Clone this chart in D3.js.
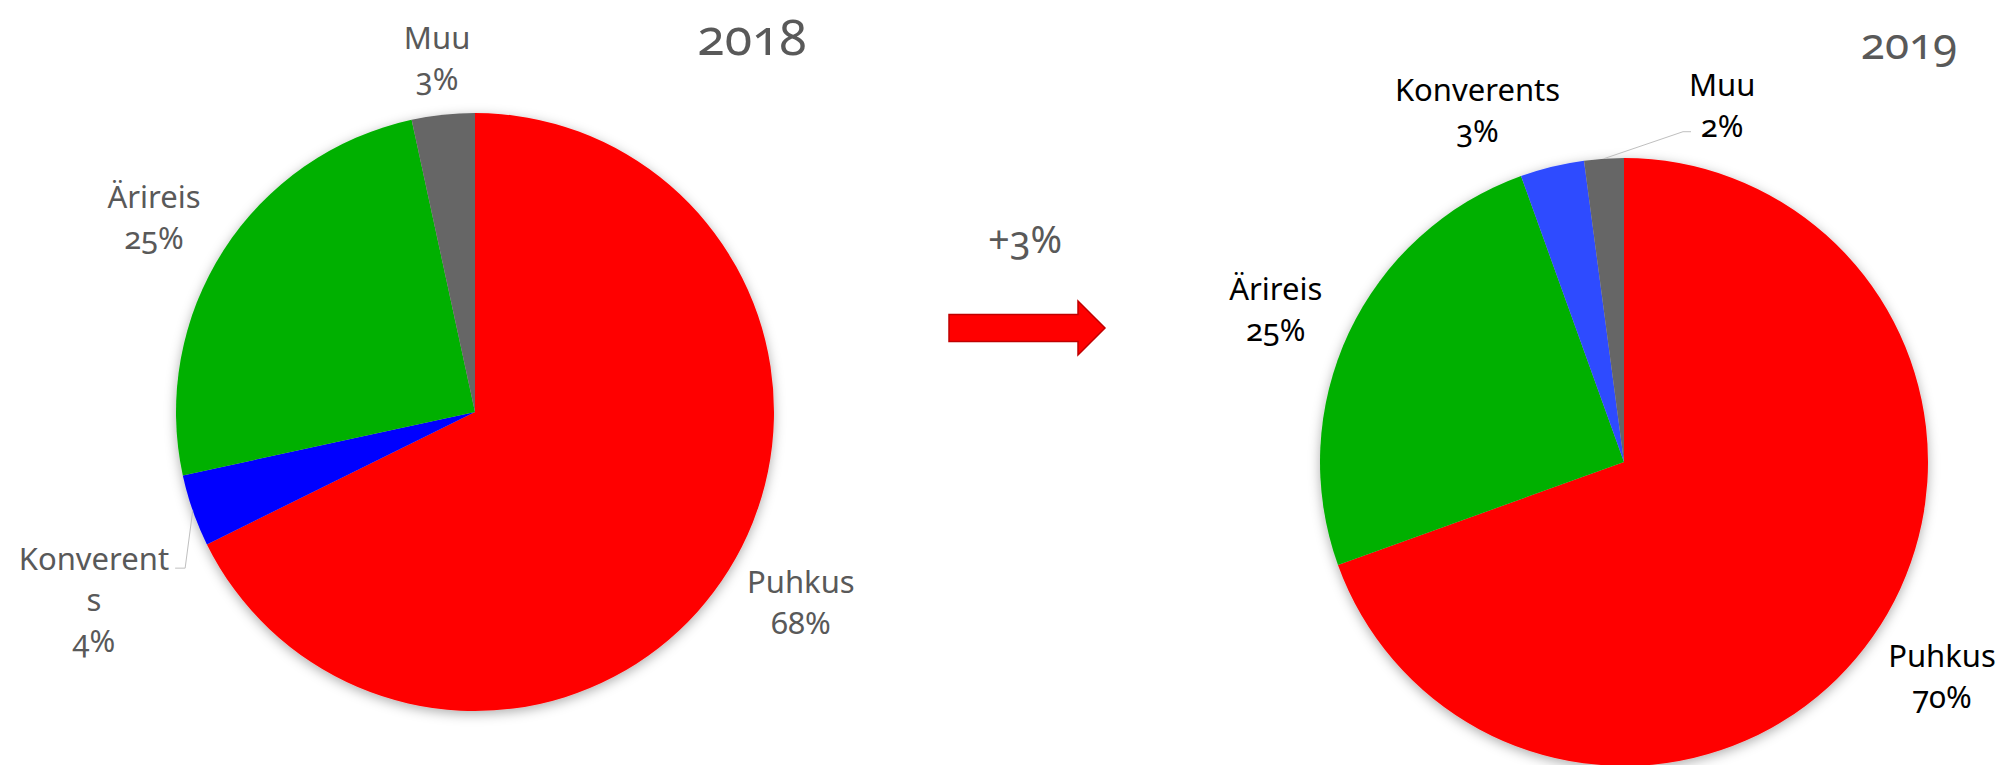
<!DOCTYPE html>
<html>
<head>
<meta charset="utf-8">
<script src="https://cdn.jsdelivr.net/npm/d3@7"></script>
<style>
body{margin:0;background:#fff;}
text{font-family:"Noto Sans",sans-serif;font-variant-numeric:oldstyle-nums;}
</style>
</head>
<body>
<div id="canvas"></div>
<script>
// data (share of trips, %)
var cats2018 = ['Puhkus','Konverents','Ärireis','Muu'];
var vals2018 = [67.7, 3.9, 25.0, 3.4];
var cats2019 = ['Puhkus','Ärireis','Konverents','Muu'];
var vals2019 = [69.5, 25.0, 3.4, 2.1];
var years = ['2018','2019'];
var change = '+3%';

var W = 2013, H = 765;
var fs = 31, lh = 41, cap = 22, gap = 25;

var svg = d3.select('#canvas').append('svg')
    .attr('width', W).attr('height', H);

var f = svg.append('defs').append('filter').attr('id','shadow')
    .attr('x','-20%').attr('y','-20%').attr('width','140%').attr('height','140%');
f.append('feDropShadow').attr('dx',0).attr('dy',3).attr('stdDeviation',6)
    .attr('flood-color','#000').attr('flood-opacity',0.32);

var color2018 = d3.scaleOrdinal().domain(['Puhkus','Konverents','Ärireis','Muu'])
    .range(['#ff0000','#0000ff','#00b000','#666666']);
var color2019 = d3.scaleOrdinal().domain(['Puhkus','Konverents','Ärireis','Muu'])
    .range(['#ff0000','#2e4bff','#00b000','#666666']);

function toData(cats, vals){
    return cats.map(function(c,i){ return {name:c, value:vals[i]}; });
}

// break a word by characters if it is wider than maxW (Excel-like wrap)
function wrap(word, maxW, tmp){
    if(!maxW) return [word];
    tmp.text(word);
    if(tmp.node().getComputedTextLength() <= maxW) return [word];
    var lines = [], cur = '';
    for(var i=0;i<word.length;i++){
        tmp.text(cur + word[i]);
        if(tmp.node().getComputedTextLength() > maxW && cur){ lines.push(cur); cur = word[i]; }
        else cur += word[i];
    }
    lines.push(cur);
    return lines;
}

function drawPie(cfg){
    var g = svg.append('g');
    var arcs = d3.pie().sort(null).value(function(d){return d.value;})(cfg.data);
    var arc = d3.arc().innerRadius(0).outerRadius(cfg.r);

    g.append('g')
        .attr('transform','translate('+cfg.cx+','+cfg.cy+')')
        .attr('filter','url(#shadow)')
        .selectAll('path').data(arcs).enter()
        .append('path')
        .attr('d', arc)
        .attr('fill', function(d){ return cfg.color(d.data.name); });

    var tmp = g.append('text').style('font-size', fs+'px');

    arcs.forEach(function(d){
        var a = (d.startAngle + d.endAngle)/2;
        var dx = Math.sin(a), dy = -Math.cos(a);
        var lines = wrap(d.data.name, cfg.wrap, tmp).concat([Math.round(d.data.value)+'%']);

        var t = g.append('text')
            .attr('text-anchor','middle')
            .attr('fill', cfg.textColor)
            .style('font-size', fs+'px');
        var spans = lines.map(function(l){ return t.append('tspan').text(l); });
        var w = d3.max(spans, function(s){ return s.node().getComputedTextLength(); });

        var hw = w/2, hh = (cap + (lines.length-1)*lh)/2;
        var ext = Math.min(Math.abs(dx) > 1e-6 ? hw/Math.abs(dx) : 1e9,
                           Math.abs(dy) > 1e-6 ? hh/Math.abs(dy) : 1e9);
        var dist = cfg.r + gap + ext;
        var nd = cfg.nudge[d.data.name] || {dx:0, dy:0};
        var bx = cfg.cx + dx*dist + nd.dx,
            by = cfg.cy + dy*dist + nd.dy;
        var top = by - hh;

        spans.forEach(function(s,i){
            s.attr('x', bx).attr('y', top + cap + i*lh);
        });

        if(nd.leader){
            var px = cfg.cx + dx*cfg.r, py = cfg.cy + dy*cfg.r;
            var right = px > bx;
            var ex = right ? bx + hw + 6 : bx - hw + 2;
            var ey = Math.max(top + 20, Math.min(top + hh*2 - 5, py));
            var kx = right ? ex + 10 : ex - 8;
            g.append('path')
                .attr('d', d3.line()([[px,py],[kx,ey],[ex,ey]]))
                .attr('fill','none')
                .attr('stroke','#bfbfbf')
                .attr('stroke-width',1);
        }
    });
    tmp.remove();
}

drawPie({
    data: toData(cats2018, vals2018), color: color2018,
    cx: 475, cy: 412, r: 299, textColor: '#595959', wrap: 160,
    nudge: {'Konverents': {dx:0, dy:55, leader:true},
            'Puhkus': {dx:0, dy:-12}, 'Ärireis': {dx:-2, dy:11}}
});
drawPie({
    data: toData(cats2019, vals2019), color: color2019,
    cx: 1624, cy: 462, r: 304, textColor: '#000000', wrap: 0,
    nudge: {'Konverents': {dx:-61, dy:0}, 'Muu': {dx:122, dy:3, leader:true},
            'Puhkus': {dx:4, dy:-6}, 'Ärireis': {dx:-4, dy:9}}
});

// year titles
svg.append('text').attr('x',752).attr('y',55).attr('text-anchor','middle')
    .attr('fill','#595959').style('font-size','50px').text(years[0]);
svg.append('text').attr('x',1909).attr('y',59).attr('text-anchor','middle')
    .attr('fill','#595959').style('font-size','44px').text(years[1]);

// change label and arrow
svg.append('text').attr('x',1025).attr('y',253).attr('text-anchor','middle')
    .attr('fill','#595959').style('font-size','38px').text(change);

var ar = {x0:949, x1:1078, x2:1105, cy:328, body:27, head:54};
svg.append('path')
    .attr('d', d3.line()([
        [ar.x0, ar.cy - ar.body/2], [ar.x1, ar.cy - ar.body/2], [ar.x1, ar.cy - ar.head/2],
        [ar.x2, ar.cy], [ar.x1, ar.cy + ar.head/2], [ar.x1, ar.cy + ar.body/2],
        [ar.x0, ar.cy + ar.body/2]
    ]) + 'Z')
    .attr('fill','#ff0000')
    .attr('stroke','#c00000')
    .attr('stroke-width',1.5);
</script>
</body>
</html>
